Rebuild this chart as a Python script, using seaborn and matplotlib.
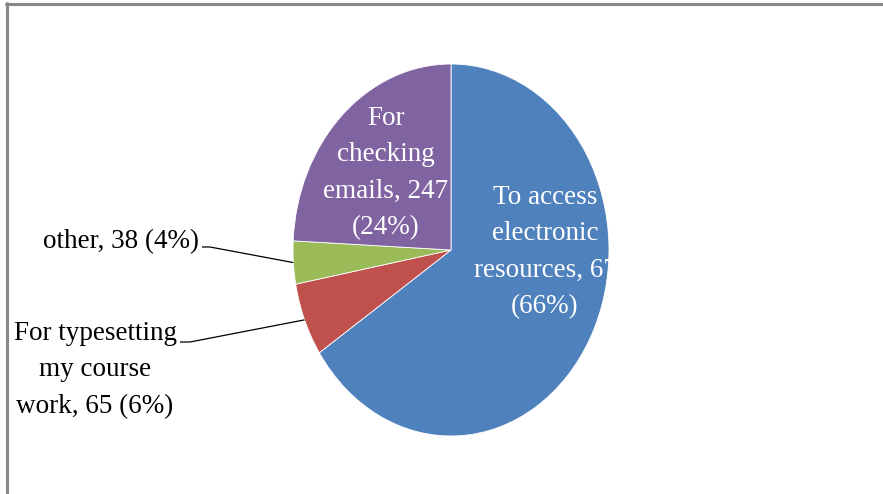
import numpy as np
import matplotlib
matplotlib.use("Agg")
import matplotlib.pyplot as plt
import seaborn as sns
from matplotlib.lines import Line2D

# ---- data ----
categories = ["To access electronic resources", "For typesetting my course work",
              "other", "For checking emails"]
values = [670, 65, 38, 247]
label_texts = ["To access\nelectronic\nresources, 67\n(66%)",
               "For typesetting\nmy course\nwork, 65 (6%)",
               "other, 38 (4%)",
               "For\nchecking\nemails, 247\n(24%)"]
colors = ["#4F81BD", "#C0504D", "#9BBB59", "#8064A2"]

sns.set_theme(style="white")
plt.rcParams["font.family"] = ["Liberation Serif", "DejaVu Serif"]

W, H = 883, 494
fig = plt.figure(figsize=(W / 100, H / 100), dpi=100)
ax = fig.add_axes([0, 0, 1, 1])

wedges, _ = ax.pie(values, colors=colors, startangle=90, counterclock=False,
                   radius=1.0, center=(0, 0), frame=True,
                   wedgeprops=dict(edgecolor="white", linewidth=0.6))

# stretch to an ellipse like the reference
cx, cy = 451, 250          # centre in px (from top)
rx, ry = 158, 186          # radii in px
ax.set_aspect("auto")
ax.set_xlim(-cx / rx, (W - cx) / rx)
ax.set_ylim(-(H - cy) / ry, cy / ry)
ax.axis("off")

def px(x, y):
    """pixel (from top-left) -> data coords"""
    return (x - cx) / rx, (cy - y) / ry

fs = 19.5
ls = 1.6

# inside labels (white)
for i, pos in [(0, (545, 252)), (3, (386, 173))]:
    x, y = px(*pos)
    ax.text(x, y, label_texts[i], color="white", fontsize=fs, ha="center",
            va="center", linespacing=ls)

# outside labels with leader lines
outside = {2: ((121, 242), (202, 247), (210, 247)),
           1: ((95, 370), (180, 342), (190, 342))}
for i, (tpos, l0, l1) in outside.items():
    x, y = px(*tpos)
    ax.text(x, y, label_texts[i], color="black", fontsize=fs, ha="center",
            va="center", linespacing=ls)
    w = wedges[i]
    mid = np.deg2rad((w.theta1 + w.theta2) / 2)
    ex, ey = np.cos(mid), np.sin(mid)
    p0 = px(*l0)
    p1 = px(*l1)
    ax.plot([p0[0], p1[0], ex], [p0[1], p1[1], ey], color="black", lw=0.9,
            solid_capstyle="butt")

# partial border (top & left) as in the reference
fig.add_artist(Line2D([6 / W, 1], [1 - 4 / H, 1 - 4 / H], transform=fig.transFigure,
                      color="#888888", lw=2.2))
fig.add_artist(Line2D([7 / W, 7 / W], [0, 1 - 3 / H], transform=fig.transFigure,
                      color="#888888", lw=2.2))

fig.savefig("out.png", dpi=100, facecolor="white")
